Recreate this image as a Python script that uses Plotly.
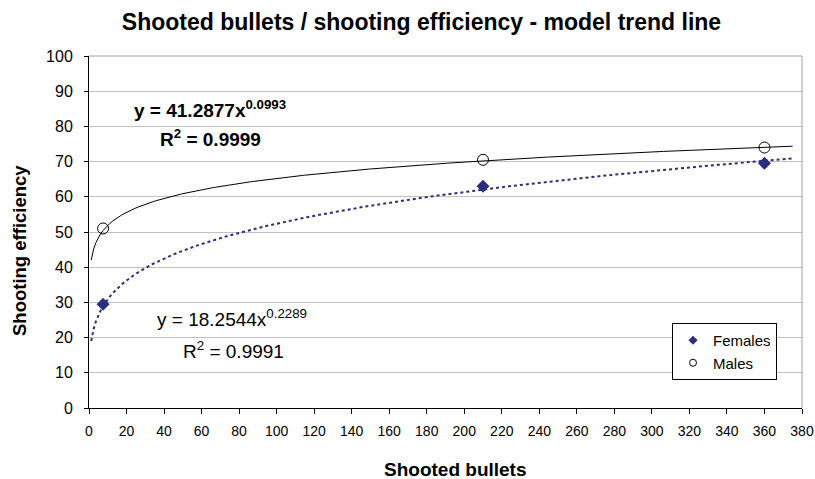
import numpy as np
import plotly.graph_objects as go

# Observed data
shots = [7.5, 210, 360]
females = [29.5, 63.0, 69.5]
males = [51.0, 70.5, 74.0]

# Power trend-line coefficients (y = a * x^b) shown on the chart
male_a, male_b = 41.2877, 0.0993
female_a, female_b = 18.2544, 0.2289
trend_x = np.linspace(1.2, 375, 300)

x_ticks = list(range(0, 381, 20))
y_ticks = list(range(0, 101, 10))

navy = "#2D2D7D"
font = "Liberation Sans, Arial, sans-serif"

fig = go.Figure()
fig.add_trace(go.Scatter(x=trend_x, y=male_a * trend_x ** male_b, mode="lines",
                         line=dict(color="black", width=1), showlegend=False, hoverinfo="skip"))
fig.add_trace(go.Scatter(x=trend_x, y=female_a * trend_x ** female_b, mode="lines",
                         line=dict(color=navy, width=2, dash="3px,3px"), showlegend=False,
                         hoverinfo="skip"))
fig.add_trace(go.Scatter(x=shots, y=females, mode="markers", name="Females", showlegend=False,
                         marker=dict(symbol="diamond", size=10, color=navy)))
fig.add_trace(go.Scatter(x=shots, y=males, mode="markers", name="Males", showlegend=False,
                         marker=dict(symbol="circle-open", size=11, color="black",
                                     line=dict(width=1, color="black"))))
# legend entries with small symbols
fig.add_trace(go.Scatter(x=[None], y=[None], mode="markers", name="Females",
                         marker=dict(symbol="diamond", size=7, color=navy)))
fig.add_trace(go.Scatter(x=[None], y=[None], mode="markers", name="Males",
                         marker=dict(symbol="circle-open", size=7, color="black",
                                     line=dict(width=1, color="black"))))

fig.update_layout(
    width=815, height=479,
    margin=dict(l=89, r=13, t=56, b=71),
    paper_bgcolor="white", plot_bgcolor="white",
    font=dict(family=font, color="black"),
    title=dict(text="<b>Shooted bullets / shooting efficiency - model trend line</b>",
               x=421.5 / 815, xanchor="center", y=1 - 22 / 479, yanchor="middle",
               font=dict(size=23)),
    xaxis=dict(range=[0, 380], tickvals=x_ticks, showgrid=False, zeroline=False,
               showline=True, linecolor="black", linewidth=1, ticks="outside", ticklen=5,
               tickcolor="black", tickfont=dict(size=14), automargin=False,
               ticklabelstandoff=5),
    yaxis=dict(range=[0, 100], tickvals=y_ticks, showgrid=True, gridcolor="#C0C0C0", gridwidth=1,
               zeroline=False, showline=True, linecolor="black", linewidth=1, ticks="outside",
               ticklen=4, tickcolor="black", tickfont=dict(size=16), automargin=False,
               ticklabelstandoff=8),
    legend=dict(x=(672 - 89) / 713, y=(408 - 323) / 352, xanchor="left", yanchor="top",
                bgcolor="white", bordercolor="black", borderwidth=1, font=dict(size=15),
                itemwidth=30, tracegroupgap=0),
    showlegend=True,
)

# axis titles
fig.add_annotation(xref="paper", yref="paper", x=(455 - 89) / 713, y=(408 - 469) / 352,
                   text="<b>Shooted bullets</b>", showarrow=False, font=dict(size=19),
                   xanchor="center", yanchor="middle")
fig.add_annotation(xref="paper", yref="paper", x=(19 - 89) / 713, y=(408 - 251) / 352,
                   text="<b>Shooting efficiency</b>", showarrow=False, font=dict(size=18.5),
                   textangle=-90, xanchor="center", yanchor="middle")

# gray frame on top and right of the plot area
fig.add_shape(type="line", xref="paper", yref="paper", x0=0, x1=1, y0=1, y1=1,
              line=dict(color="#A0A0A0", width=1))
fig.add_shape(type="line", xref="paper", yref="paper", x0=1, x1=1, y0=0, y1=1,
              line=dict(color="#A0A0A0", width=1))

def px_x(p):
    return (p - 89) / 713 * 380

def px_y(p):
    return (408 - p) / 352 * 100

fig.add_annotation(x=px_x(210), y=px_y(109), showarrow=False,
                   text="<b>y = 41.2877x<sup>0.0993</sup></b>", font=dict(size=19))
fig.add_annotation(x=px_x(210), y=px_y(138), showarrow=False,
                   text="<b>R<sup>2</sup> = 0.9999</b>", font=dict(size=19))
fig.add_annotation(x=px_x(232), y=px_y(318), showarrow=False,
                   text="y = 18.2544x<sup>0.2289</sup>", font=dict(size=19))
fig.add_annotation(x=px_x(233), y=px_y(350), showarrow=False,
                   text="R<sup>2</sup> = 0.9991", font=dict(size=19))

fig.write_html("out.html", config={"displayModeBar": False},
               post_script="document.body.style.margin='0px';")
